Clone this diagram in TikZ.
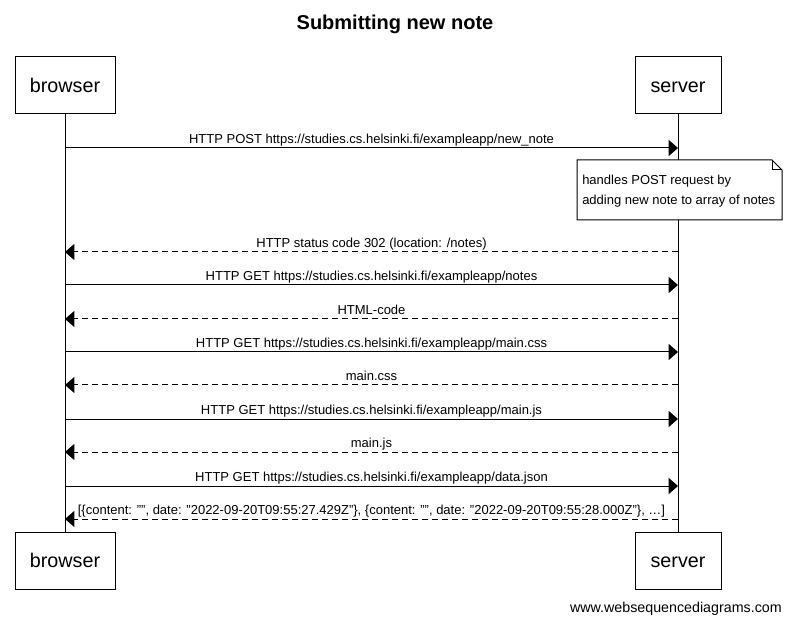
\documentclass[tikz,border=0pt]{standalone}
\usepackage{fontspec}
\setmainfont{Liberation Sans}
\usetikzlibrary{arrows.meta}
\begin{document}
\begin{tikzpicture}[x=0.75pt,y=-0.75pt,
  actor/.style={draw,line width=0.75pt,minimum width=#1*0.75pt,minimum height=57*0.75pt,inner sep=0pt,text height=14pt,text depth=2.8pt,font=\fontsize{14.8}{18}\selectfont},
  lifeline/.style={line width=0.75pt},
  req/.style={line width=0.75pt,-{Triangle[length=7pt,width=12pt]}},
  resp/.style={req,dash pattern=on 4.5pt off 3pt},
  lbl/.style={font=\fontsize{9.75}{11}\selectfont,inner sep=0pt,anchor=base},
  notebox/.style={draw,line width=0.75pt,fill=white}]
\useasboundingbox (0,0) rectangle (790,624);
\node[font=\bfseries\fontsize{15}{18}\selectfont,anchor=base,inner sep=0pt] (title) at (395,29.5) {Submitting new note};
\node[actor=100] (bt) at (65,85.5) {browser};
\node[actor=86] (st) at (678,85.5) {server};
\node[actor=100] (bb) at (65,560.5) {browser};
\node[actor=86] (sb) at (678,560.5) {server};
\draw[lifeline] (bt.south) -- (bb.north);
\draw[lifeline] (st.south) -- (sb.north);
% messages
\foreach \y/\dir/\txt in {
 148/r/{HTTP POST https://studies.cs.helsinki.fi/exampleapp/new\_note},
 252/l/{HTTP status code 302 (location: /notes)},
 285/r/{HTTP GET https://studies.cs.helsinki.fi/exampleapp/notes},
 319/l/{HTML-code},
 352/r/{HTTP GET https://studies.cs.helsinki.fi/exampleapp/main.css},
 385/l/{main.css},
 419/r/{HTTP GET https://studies.cs.helsinki.fi/exampleapp/main.js},
 452/l/{main.js},
 486/r/{HTTP GET https://studies.cs.helsinki.fi/exampleapp/data.json},
 519/l/{[\{content: "", date: "2022-09-20T09:55:27.429Z"\}, \{content: "", date: "2022-09-20T09:55:28.000Z"\}, …]}}
{
 \coordinate (pb) at (65,\y);
 \coordinate (ps) at (678,\y);
 \if r\dir
   \draw[req] (pb) -- (ps);
 \else
   \draw[resp] (ps) -- (pb);
 \fi
 \node[lbl] at (371.5,\y-4.5) {\txt};
}
% note
\coordinate (n1) at (577,160);
\coordinate (n2) at (772,160);
\coordinate (n3) at (782,170);
\coordinate (n4) at (782,220);
\coordinate (n5) at (577,220);
\draw[notebox] (n1) -- (n2) -- (n3) -- (n4) -- (n5) -- cycle;
\draw[line width=0.75pt] (n2) -- (772,170) -- (n3);
\node[font=\fontsize{9.75}{15}\selectfont,align=left,anchor=north west,inner sep=0pt] (note) at (582,175) {handles POST request by\\adding new note to array of notes};
\node[font=\fontsize{10.7}{12}\selectfont,anchor=base east,inner sep=0pt] (foot) at (782,612) {www.websequencediagrams.com};
\end{tikzpicture}
\end{document}
